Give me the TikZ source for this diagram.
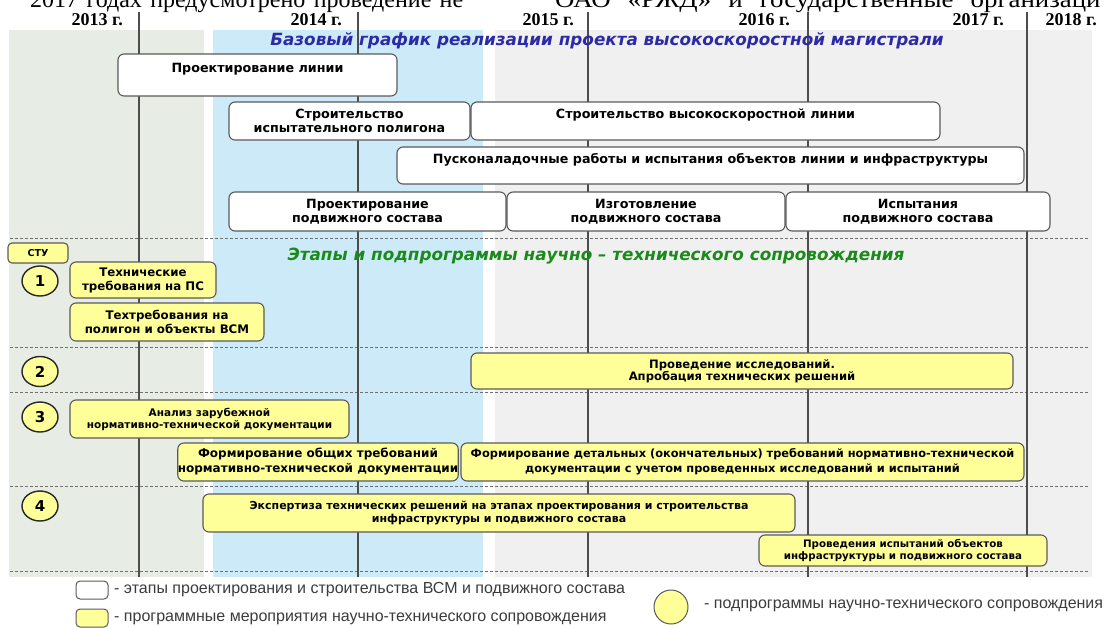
\documentclass[tikz,border=0pt]{standalone}
\usepackage{fontspec}
\setmainfont{Liberation Serif}
\newfontfamily\dvs{DejaVu Sans}
\newfontfamily\lsans{Liberation Sans}
\usetikzlibrary{shapes.geometric}
\definecolor{bandg}{HTML}{E7ECE5}
\definecolor{bandb}{HTML}{CDEAF9}
\definecolor{bandr}{HTML}{F0F0F0}
\definecolor{yel}{HTML}{FFFF99}
\definecolor{bord}{HTML}{5A5A5A}
\definecolor{vline}{HTML}{4D4D4D}
\definecolor{dashc}{HTML}{707070}
\definecolor{ttlblue}{HTML}{2B2BA8}
\definecolor{ttlgreen}{HTML}{1B8A1B}
\definecolor{legtext}{HTML}{3C3C3C}
\begin{document}
\begin{tikzpicture}[x=1pt,y=-1pt,
  wbox/.style={draw=bord,line width=1.1pt,fill=white,rounded corners=6pt,inner sep=0pt,align=center,
    font={\dvs\bfseries\fontsize{12.7}{14}\selectfont}},
  ybox/.style={draw=bord,line width=1.1pt,fill=yel,rounded corners=6pt,inner sep=0pt,align=center},
  yf/.style 2 args={font={\dvs\bfseries\fontsize{#1}{#2}\selectfont}},
  circ/.style={ellipse,draw=black!85,line width=1.4pt,fill=yel,minimum width=36pt,minimum height=30pt,inner sep=0pt,
    font={\dvs\bfseries\fontsize{15}{15}\selectfont}},
  vl/.style={draw=vline,line width=1.5pt},
  dl/.style={draw=dashc,line width=0.8pt,dash pattern=on 3pt off 2pt},
  yr/.style={anchor=base east,inner sep=0pt,font={\bfseries\fontsize{18}{18}\selectfont}},
  ttl/.style={inner sep=0pt,font={\dvs\bfseries\itshape\fontsize{16.8}{17}\selectfont}},
  lg/.style={anchor=west,inner sep=0pt,text=legtext,font={\lsans\fontsize{16}{16}\selectfont}},
  lsq/.style={draw=bord,line width=1pt,rounded corners=4pt,minimum width=32pt,minimum height=18pt,inner sep=0pt},
  toptxt/.style={anchor=base west,inner sep=0pt,font={\fontsize{24}{24}\selectfont}}
]
\useasboundingbox (0,0) rectangle (1106,627);
\clip (0,0) rectangle (1106,627);
\fill[white] (0,0) rectangle (1106,627);
% background bands
\fill[bandg] (9,30) rectangle (204,577);
\fill[bandb] (213,30) rectangle (483,577);
\fill[bandr] (495,30) rectangle (1092,577);
% dashed separators
\foreach \y in {238,347,392,486,571} \draw[dl] (10,\y) -- (1088,\y);
% year lines
\foreach \x in {139,358,588,808,1027} \draw[vl] (\x,12) -- (\x,577);
% top text (cut off at the top edge, as in the source page)
\node[toptxt] (top1) at (30,7.5) {\makebox[433pt][s]{2017 годах предусмотрено проведение не}};
\node[toptxt] (top2) at (555,7.5) {\scalebox{1.12}[1]{\makebox[487pt][s]{ОАО «РЖД» и государственные организаци}}};
% years
\node[yr] (y13) at (123,25) {2013 г.};
\node[yr] (y14) at (342,25) {2014 г.};
\node[yr] (y15) at (574,25) {2015 г.};
\node[yr] (y16) at (790,25) {2016 г.};
\node[yr] (y17) at (1004,25) {2017 г.};
\node[yr] (y18) at (1097,25) {2018 г.};
% titles
\node[ttl,text=ttlblue] (t1) at (607,41) {Базовый график реализации проекта высокоскоростной магистрали};
\node[ttl,text=ttlgreen] (t2) at (596,256) {Этапы и подпрограммы научно – технического сопровождения};
% white boxes
\node[wbox,minimum width=279,minimum height=42] (w1) at (257.5,75) {Проектирование линии\\~};
\node[wbox,minimum width=241,minimum height=38] (w2) at (349.5,121) {Строительство\\испытательного полигона};
\node[wbox,minimum width=469,minimum height=38] (w3) at (705.5,121) {Строительство высокоскоростной линии\\~};
\node[wbox,minimum width=627,minimum height=37] (w4) at (710.5,165.5) {Пусконаладочные работы и испытания объектов линии и инфраструктуры\\~};
\node[wbox,minimum width=277,minimum height=39] (w5) at (367.5,211.5) {Проектирование\\подвижного состава};
\node[wbox,minimum width=278,minimum height=39] (w6) at (646,211.5) {Изготовление\\подвижного состава};
\node[wbox,minimum width=264,minimum height=39] (w7) at (918,211.5) {Испытания\\подвижного состава};
% yellow boxes
\node[ybox,yf={9.5}{10},rounded corners=4pt,minimum width=60,minimum height=20] (stu) at (38,253) {СТУ};
\node[ybox,yf={11.8}{14},minimum width=146,minimum height=36] (b1) at (143,280) {Технические\\требования на ПС};
\node[ybox,yf={11.8}{14},minimum width=194,minimum height=38] (b2) at (167,322) {Техтребования на\\полигон и объекты ВСМ};
\node[ybox,yf={11.6}{12},minimum width=542,minimum height=36] (b3) at (742,371) {Проведение исследований.\\Апробация технических решений};
\node[ybox,yf={10.5}{12},minimum width=279,minimum height=38] (b4) at (209.5,419) {Анализ зарубежной\\нормативно-технической документации};
\node[ybox,yf={12}{15},minimum width=278,minimum height=38] (b5) at (318,462) {Формирование общих требований\\нормативно-технической документации};
\node[ybox,yf={11.4}{15},minimum width=563,minimum height=38] (b6) at (742.5,462) {Формирование детальных (окончательных) требований нормативно-технической\\документации с учетом проведенных исследований и испытаний};
\node[ybox,yf={11}{13},minimum width=592,minimum height=38] (b7) at (499,513) {Экспертиза технических решений на этапах проектирования и строительства\\инфраструктуры и подвижного состава};
\node[ybox,yf={10.3}{12},minimum width=288,minimum height=31] (b8) at (903,550.5) {Проведения испытаний объектов\\инфраструктуры и подвижного состава};
% circles
\node[circ] (c1) at (40,281) {1};
\node[circ] (c2) at (40,371.5) {2};
\node[circ] (c3) at (40,417) {3};
\node[circ] (c4) at (40,506) {4};
% legend
\node[lsq,fill=white] (lw) at (92,590) {};
\node[lg] (lwt) at (114,590) {- этапы проектирования и строительства ВСМ и подвижного состава};
\node[lsq,fill=yel] (ly) at (92,618) {};
\node[lg] (lyt) at (114,619) {- программные мероприятия научно-технического сопровождения};
\node[ellipse,draw=bord,line width=1pt,fill=yel,minimum width=34pt,minimum height=34pt,inner sep=0pt] (lc) at (671,607) {};
\node[lg] (lct) at (704,606) {- подпрограммы научно-технического сопровождения};
\end{tikzpicture}
\end{document}
